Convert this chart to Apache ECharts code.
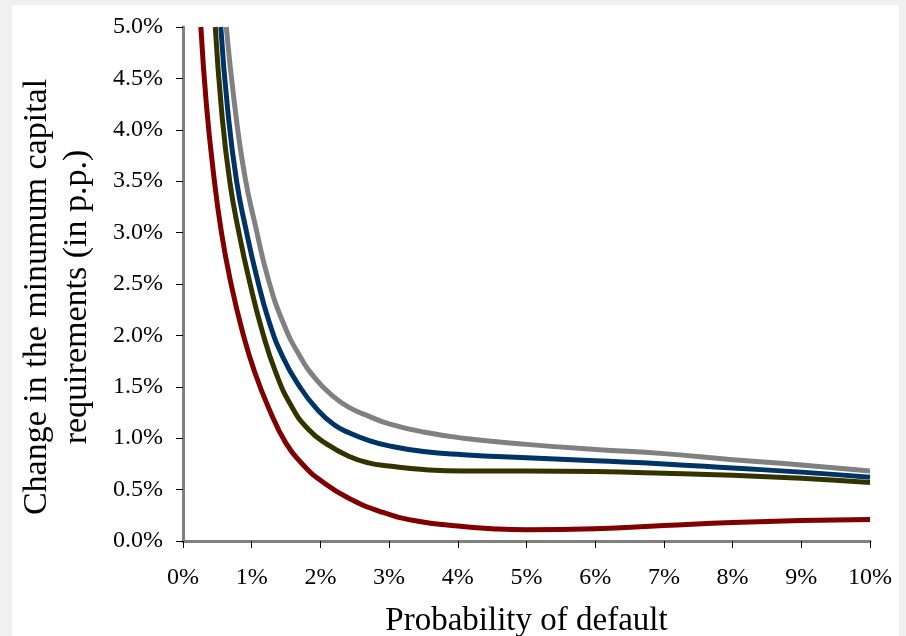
<!DOCTYPE html>
<html>
<head>
<meta charset="utf-8">
<script src="https://cdn.jsdelivr.net/npm/echarts@6/dist/echarts.min.js"></script>
<style>
  html, body { margin: 0; padding: 0; background: #f0f0f0; }
  #chart { position: absolute; left: 12px; top: 5px; width: 887px; height: 631px; background: #fff; }
</style>
</head>
<body>
<div id="chart"></div>
<script>
// probability of default (%) and change in capital requirement (p.p., %) per curve
const redPd = [0.26, 0.34, 0.44, 0.56, 0.7, 0.86, 1.04, 1.25, 1.5, 1.75, 2.0, 2.4, 2.9, 3.4, 4.0, 4.5, 5, 6, 7, 8, 9, 10]
const redVal = [5.0, 4.25, 3.6, 3.0, 2.5, 2.05, 1.65, 1.29, 0.95, 0.74, 0.59, 0.42, 0.28, 0.195, 0.145, 0.12, 0.11, 0.12, 0.15, 0.18, 0.2, 0.21]

const olivePd = [0.47, 0.56, 0.68, 0.82, 0.97, 1.15, 1.35, 1.58, 1.82, 2.1, 2.43, 2.7, 3.0, 3.5, 4.08, 5, 6, 7, 8, 9, 10]
const oliveVal = [5.0, 4.2, 3.5, 2.98, 2.52, 2.05, 1.64, 1.31, 1.09, 0.94, 0.82, 0.76, 0.73, 0.695, 0.68, 0.68, 0.675, 0.66, 0.64, 0.61, 0.57]

const bluePd = [0.55, 0.65, 0.78, 0.92, 1.07, 1.25, 1.46, 1.7, 1.94, 2.2, 2.43, 2.7, 3.0, 3.5, 4.08, 5, 6, 7, 8, 9, 10]
const blueVal = [5.0, 4.2, 3.5, 3.02, 2.58, 2.14, 1.78, 1.5, 1.29, 1.13, 1.05, 0.98, 0.925, 0.87, 0.84, 0.81, 0.78, 0.75, 0.71, 0.67, 0.62]

const grayPd = [0.63, 0.75, 0.9, 1.06, 1.24, 1.46, 1.7, 1.94, 2.2, 2.43, 2.7, 3.0, 3.5, 4.08, 5, 6, 7, 8, 9, 10]
const grayVal = [5.0, 4.25, 3.55, 3.05, 2.55, 2.12, 1.8, 1.57, 1.4, 1.295, 1.215, 1.14, 1.06, 1.0, 0.94, 0.89, 0.85, 0.79, 0.74, 0.68]

const xTickLabels = ['0%', '1%', '2%', '3%', '4%', '5%', '6%', '7%', '8%', '9%', '10%']
const yTickLabels = ['0.0%', '0.5%', '1.0%', '1.5%', '2.0%', '2.5%', '3.0%', '3.5%', '4.0%', '4.5%', '5.0%']

const font = 'Liberation Serif'
const pairs = (xs, ys) => xs.map((x, i) => [x, ys[i]])

const curves = [
  { name: 'red', color: '#800000', data: pairs(redPd, redVal) },
  { name: 'olive', color: '#333300', data: pairs(olivePd, oliveVal) },
  { name: 'blue', color: '#003366', data: pairs(bluePd, blueVal) },
  { name: 'gray', color: '#808080', data: pairs(grayPd, grayVal) }
]

const chart = echarts.init(document.getElementById('chart'))

chart.setOption({
  animation: false,
  grid: { left: 171, right: 29, top: 22, bottom: 95, outerBoundsMode: 'none' },
  xAxis: [
    {
      type: 'value',
      min: 0, max: 10, interval: 1,
      name: 'Probability of default',
      nameLocation: 'middle',
      nameGap: 64,
      nameTextStyle: { fontFamily: font, fontSize: 33, color: '#000' },
      axisLine: { lineStyle: { color: '#000', width: 2 } },
      axisTick: { length: 7, lineStyle: { color: '#000', width: 1 } },
      axisLabel: {
        margin: 25, fontFamily: font, fontSize: 24, color: '#000',
        formatter: v => xTickLabels[Math.round(v)]
      },
      splitLine: { show: false }
    },
    {
      type: 'value', position: 'top', min: 0, max: 10,
      axisLine: { show: true, lineStyle: { color: '#808080', width: 3 } },
      axisTick: { show: false }, axisLabel: { show: false }, splitLine: { show: false }
    }
  ],
  yAxis: [
    {
      type: 'value',
      min: 0, max: 5, interval: 0.5,
      name: 'Change in the minumum capital\nrequirements (in p.p.)',
      nameLocation: 'middle',
      nameGap: 86,
      nameTextStyle: { fontFamily: font, fontSize: 34, lineHeight: 40, color: '#000', padding: [0, 26, 0, 0] },
      axisLine: { show: true, lineStyle: { color: '#000', width: 2 } },
      axisTick: { show: true, length: 7, lineStyle: { color: '#000', width: 1 } },
      axisLabel: {
        margin: 20, fontFamily: font, fontSize: 24, color: '#000',
        formatter: v => yTickLabels[Math.round(v * 2)]
      },
      splitLine: { show: false }
    },
    {
      type: 'value', position: 'right', min: 0, max: 5,
      axisLine: { show: true, lineStyle: { color: '#808080', width: 3 } },
      axisTick: { show: false }, axisLabel: { show: false }, splitLine: { show: false }
    }
  ],
  series: curves.map(c => ({
    name: c.name,
    type: 'line',
    data: c.data,
    smooth: 0.5,
    clip: true,
    showSymbol: false,
    lineStyle: { color: c.color, width: 5 },
    itemStyle: { color: c.color }
  }))
})
</script>
</body>
</html>
